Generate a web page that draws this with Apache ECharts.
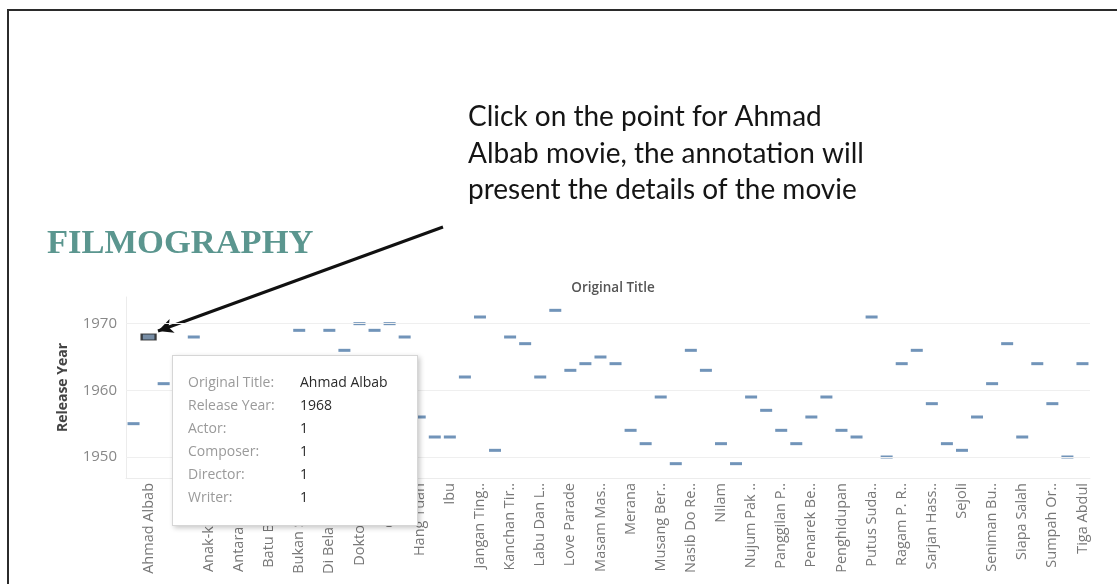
<!DOCTYPE html>
<html>
<head>
<meta charset="utf-8">
<script src="https://cdn.jsdelivr.net/npm/echarts@6/dist/echarts.min.js"></script>
<style>
    html, body {
        margin: 0;
        padding: 0;
        background: #fff;
    }
    #wrap {
        position: relative;
        width: 1117px;
        height: 584px;
        overflow: hidden;
    }
    #frame {
        position: absolute;
        left: 7px;
        top: 9px;
        right: -10px;
        bottom: -10px;
        border-top: 2px solid #2b2b2b;
        border-left: 2px solid #2b2b2b;
    }
    #chart {
        position: absolute;
        left: 0;
        top: 0;
        width: 1117px;
        height: 584px;
    }
</style>
</head>
<body>
<div id="wrap">
    <div id="frame"></div>
    <div id="chart"></div>
</div>
<script>
// film titles, alphabetical as on the axis
const titles = [
    'Abu Hassan Pencuri', 'Ahmad Albab', 'Ali Baba Bujang Lapok', 'Aloha',
    'Anak Bapak', 'Anak-ku Sazali', 'Antara Dua Darjat', 'Antara Senyum Dan Tangis',
    'Bakti', 'Batu Belah Batu Bertangkup', 'Bujang Lapok', 'Bukan Salah Ibu Mengandung',
    'Chinta', 'Di Belakang Tabir', 'Do Re Mi', 'Doktor Rushdi',
    'Enam Jahanam', 'Gelora', 'Gerimis', 'Hang Tuah',
    'Hujan Panas', 'Ibu', 'Ibu Mertuaku', 'Jangan Tinggal Daku',
    'Juwita', 'Kanchan Tirana', 'Keluarga 69', 'Labu Dan Labi',
    'Laksamana Do Re Mi', 'Love Parade', 'Madu Tiga', 'Masam Masam Manis',
    'Melanchong Ke Tokyo', 'Merana', 'Miskin', 'Musang Berjanggut',
    'Nasib', 'Nasib Do Re Mi', 'Nasib Si Labu Labi', 'Nilam',
    'Noor Asmara', 'Nujum Pak Belalang', 'Pancha Delima', 'Panggilan Pulau',
    'Patah Hati', 'Penarek Becha', 'Pendekar Bujang Lapok', 'Penghidupan',
    'Putus Harapan', 'Putus Sudah Kasih Sayang', 'Rachun Dunia', 'Ragam P. Ramlee',
    'Sabarudin Tukang Kasut', 'Sarjan Hassan', 'Sedarah', 'Sejoli',
    'Semerah Padi', 'Seniman Bujang Lapok', 'Sesudah Subuh', 'Siapa Salah',
    'Sitora Harimau Jadian', 'Sumpah Orang Minyak', 'Takdir Ilahi', 'Tiga Abdul'
];

const releaseYears = [
    1955, 1968, 1961, 1950,
    1968, 1956, 1960, 1952,
    1950, 1959, 1957, 1969,
    1948, 1969, 1966, 1970,
    1969, 1970, 1968, 1956,
    1953, 1953, 1962, 1971,
    1951, 1968, 1967, 1962,
    1972, 1963, 1964, 1965,
    1964, 1954, 1952, 1959,
    1949, 1966, 1963, 1952,
    1949, 1959, 1957, 1954,
    1952, 1956, 1959, 1954,
    1953, 1971, 1950, 1964,
    1966, 1958, 1952, 1951,
    1956, 1961, 1967, 1953,
    1964, 1958, 1950, 1964
];

const yearTicks = [1950, 1960, 1970];

// selected film shown in the annotation box
const selectedIndex = 1;
const roleNames = ['Actor', 'Composer', 'Director', 'Writer'];
const selectedRoles = [1, 1, 1, 1];

const noteText = 'Click on the point for Ahmad\nAlbab movie, the annotation will\npresent the details of the movie';

const chartDom = document.getElementById('chart');
const myChart = echarts.init(chartDom);

const points = releaseYears.map((y, i) => {
    if (i === selectedIndex) {
        return {
            value: [i, y],
            symbolSize: [14, 6],
            itemStyle: { color: '#55708f', borderColor: '#1b1b1b', borderWidth: 1.5 }
        };
    }
    return [i, y];
});

const option = {
    animation: false,
    textStyle: { fontFamily: 'Open Sans' },
    title: [
        {
            text: 'FILMOGRAPHY',
            left: 42,
            top: 222,
            textStyle: {
                fontFamily: 'Liberation Serif',
                fontWeight: 'bold',
                fontSize: 34.5,
                color: '#5b968f'
            }
        },
        {
            text: noteText,
            left: 463,
            top: 94,
            textStyle: {
                fontFamily: 'Lato',
                fontWeight: 'normal',
                fontSize: 28,
                lineHeight: 36.5,
                color: '#151515'
            }
        },
        {
            text: 'Original Title',
            left: 608,
            top: 276,
            textAlign: 'center',
            textStyle: {
                fontFamily: 'Open Sans',
                fontWeight: 600,
                fontSize: 13.5,
                color: '#555'
            }
        }
    ],
    grid: {
        left: 126,
        right: 27,
        top: 297,
        height: 181
    },
    tooltip: {
        trigger: 'item',
        triggerOn: 'none',
        alwaysShowContent: true,
        transitionDuration: 0,
        position: [172, 355],
        padding: [14, 15],
        borderColor: '#d6d6d6',
        borderWidth: 1,
        borderRadius: 0,
        extraCssText: 'width:246px;height:171px;box-sizing:border-box;box-shadow:2px 2px 5px rgba(0,0,0,0.22);',
        formatter: (p) => {
            const rows = [
                ['Original Title:', titles[p.value[0]]],
                ['Release Year:', p.value[1]]
            ];
            roleNames.forEach((r, k) => rows.push([r + ':', selectedRoles[k]]));
            return rows.map(r =>
                '<div style="line-height:23px;font-family:Open Sans;font-size:14px;white-space:nowrap">' +
                '<span style="display:inline-block;width:112px;color:#9a9a9a">' + r[0] + '</span>' +
                '<span style="color:#2a2a2a">' + r[1] + '</span></div>'
            ).join('');
        }
    },
    xAxis: {
        type: 'category',
        data: titles,
        boundaryGap: true,
        axisLine: { show: true, lineStyle: { color: '#ececec' } },
        axisTick: { show: false },
        splitLine: { show: false },
        axisLabel: {
            rotate: 90,
            margin: 5,
            interval: (i) => i % 2 === 1,
            color: '#777',
            fontSize: 14.5,
            fontFamily: 'Open Sans',
            width: 93,
            overflow: 'truncate',
            ellipsis: '..'
        }
    },
    yAxis: {
        type: 'value',
        min: 1946.85,
        max: 1974,
        name: 'Release Year',
        nameLocation: 'middle',
        nameGap: 56,
        nameTextStyle: {
            fontFamily: 'Open Sans',
            fontWeight: 'bold',
            fontSize: 14,
            color: '#444'
        },
        axisLine: { show: true, lineStyle: { color: '#ececec' } },
        axisTick: { show: false },
        splitLine: { show: false },
        axisLabel: {
            customValues: yearTicks,
            formatter: (v) => String(v),
            margin: 9,
            color: '#888',
            fontSize: 15,
            fontFamily: 'Open Sans'
        }
    },
    series: [
        {
            type: 'scatter',
            symbol: 'rect',
            symbolSize: [12, 3],
            itemStyle: { color: '#4e79a7' },
            emphasis: { disabled: true },
            z: 3,
            data: points,
            markLine: {
                silent: true,
                symbol: ['none', 'arrow'],
                symbolSize: [11, 15],
                label: { show: false },
                lineStyle: { color: '#111', width: 3, type: 'solid' },
                data: [
                    [{ x: 443, y: 227 }, { x: 158, y: 331 }]
                ]
            }
        },
        {
            type: 'scatter',
            data: [],
            silent: true,
            z: 1,
            markLine: {
                silent: true,
                symbol: 'none',
                label: { show: false },
                lineStyle: { color: '#efefef', width: 1, type: 'solid' },
                data: yearTicks.map(v => ({ yAxis: v }))
            }
        }
    ]
};

myChart.setOption(option);
myChart.dispatchAction({ type: 'showTip', seriesIndex: 0, dataIndex: selectedIndex });
</script>
</body>
</html>
